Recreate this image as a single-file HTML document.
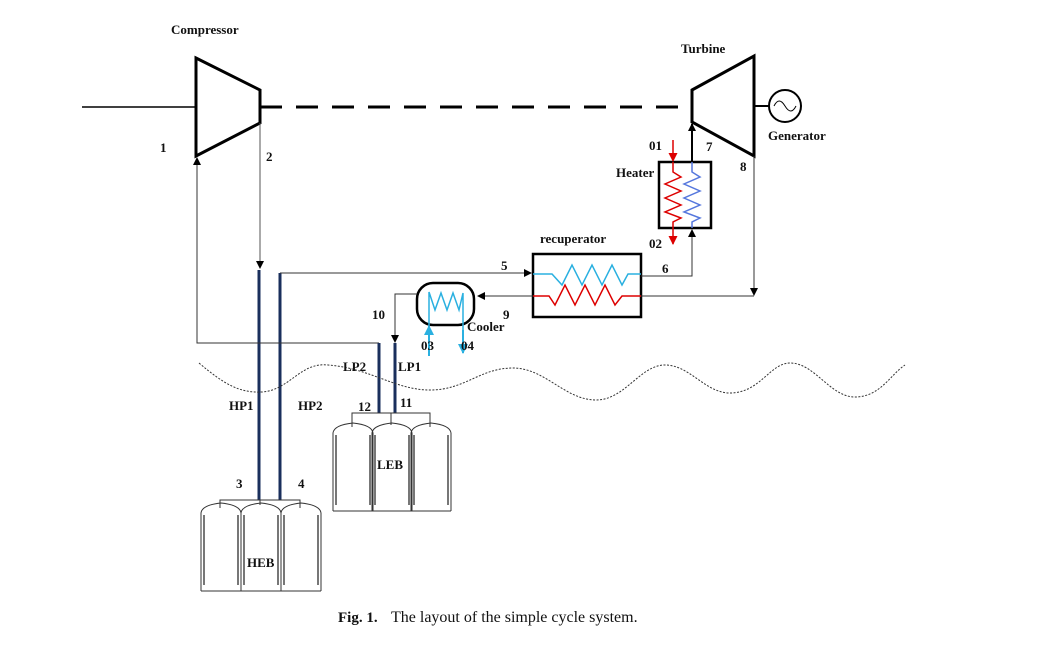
<!DOCTYPE html>
<html><head><meta charset="utf-8"><style>
html,body{margin:0;padding:0;background:#fff;}
svg{display:block;}
text{font-family:"Liberation Serif",serif;font-weight:bold;font-size:13px;fill:#111;}
</style></head><body>
<svg width="1040" height="654" viewBox="0 0 1040 654" xmlns="http://www.w3.org/2000/svg">
<defs>
<marker id="ah" markerWidth="8" markerHeight="8" refX="7" refY="4" orient="auto" markerUnits="userSpaceOnUse"><path d="M0,0 L8,4 L0,8 Z" fill="#000"/></marker>
<marker id="ahr" markerWidth="9" markerHeight="9" refX="8" refY="4.5" orient="auto" markerUnits="userSpaceOnUse"><path d="M0,0 L9,4.5 L0,9 Z" fill="#d00"/></marker>
<marker id="ahb" markerWidth="10" markerHeight="10" refX="9" refY="5" orient="auto" markerUnits="userSpaceOnUse"><path d="M0,0 L10,5 L0,10 Z" fill="#2ab0e0"/></marker>
<g id="tank" fill="none" stroke="#333" stroke-width="1">
<path d="M0,10 Q1,2 20,0 Q39,2 40,10"/>
<line x1="0" y1="10" x2="0" y2="88"/>
<line x1="3" y1="12" x2="3" y2="82" stroke="#777" stroke-width="2"/>
<line x1="37" y1="12" x2="37" y2="82" stroke="#777" stroke-width="2"/>
<line x1="40" y1="10" x2="40" y2="88"/>
<line x1="0" y1="88" x2="40" y2="88"/>
</g>
</defs>
<rect width="1040" height="654" fill="#fff"/>

<polygon points="196,58 260,90 260,123 196,156" fill="none" stroke="#000" stroke-width="3"/>
<line x1="82" y1="107" x2="196" y2="107" stroke="#000" stroke-width="1.5"/>
<line x1="260" y1="107" x2="692" y2="107" stroke="#000" stroke-width="3" stroke-dasharray="22,14"/>
<polygon points="692,90 754,56 754,156 692,122" fill="none" stroke="#000" stroke-width="3"/>
<line x1="754" y1="106" x2="769" y2="106" stroke="#000" stroke-width="2"/>
<circle cx="785" cy="106" r="16" fill="none" stroke="#000" stroke-width="2"/>
<path d="M774,106 Q779,96 785,106 Q791,116 796,106" fill="none" stroke="#000" stroke-width="1"/>

<rect x="659" y="162" width="52" height="66" fill="none" stroke="#000" stroke-width="2.5"/>
<line x1="673" y1="140" x2="673" y2="161" stroke="#d00" stroke-width="1.5" marker-end="url(#ahr)"/>
<polyline points="673,162 673,172 681,177 665,184 681,191 665,198 681,205 665,212 681,218 673,222 673,228" fill="none" stroke="#d00" stroke-width="1.5"/>
<line x1="673" y1="228" x2="673" y2="244" stroke="#d00" stroke-width="1.5" marker-end="url(#ahr)"/>
<polyline points="692,162 692,172 700,177 684,184 700,191 684,198 700,205 684,212 700,218 692,222 692,228" fill="none" stroke="#5577dd" stroke-width="1.5"/>
<line x1="692" y1="162" x2="692" y2="124" stroke="#000" stroke-width="2" marker-end="url(#ah)"/>

<rect x="533" y="254" width="108" height="63" fill="none" stroke="#000" stroke-width="2.5"/>
<polyline points="533,274 552,274 562,285 572,265 582,285 592,265 602,285 612,265 622,285 628,274 641,274" fill="none" stroke="#2ab0e0" stroke-width="1.5"/>
<polyline points="533,296 549,296 555,305 565,285 575,305 585,285 595,305 605,285 615,305 622,296 641,296" fill="none" stroke="#d00" stroke-width="1.5"/>
<polyline points="641,276 692,276 692,230" fill="none" stroke="#333" stroke-width="1" marker-end="url(#ah)"/>
<polyline points="754,156 754,295" fill="none" stroke="#333" stroke-width="1" marker-end="url(#ah)"/>
<line x1="754" y1="296" x2="641" y2="296" stroke="#333" stroke-width="1"/>
<line x1="533" y1="296" x2="478" y2="296" stroke="#333" stroke-width="1" marker-end="url(#ah)"/>

<rect x="417" y="283" width="57" height="42" rx="16" fill="none" stroke="#000" stroke-width="2.5"/>
<polyline points="429,340 429,292 435,310 441,293 447,310 453,293 459,310 463,293 463,340" fill="none" stroke="#2ab0e0" stroke-width="1.5"/>
<line x1="429" y1="356" x2="429" y2="326" stroke="#2ab0e0" stroke-width="2" marker-end="url(#ahb)"/>
<line x1="463" y1="330" x2="463" y2="353" stroke="#2ab0e0" stroke-width="2" marker-end="url(#ahb)"/>
<polyline points="417,294 395,294 395,342" fill="none" stroke="#333" stroke-width="1" marker-end="url(#ah)"/>

<polyline points="260,123 260,268" fill="none" stroke="#555" stroke-width="1" marker-end="url(#ah)"/>
<line x1="259" y1="270" x2="259" y2="500" stroke="#1a2f5c" stroke-width="3"/>
<line x1="280" y1="273" x2="280" y2="500" stroke="#1a2f5c" stroke-width="3"/>
<line x1="280" y1="273" x2="531" y2="273" stroke="#333" stroke-width="1" marker-end="url(#ah)"/>
<polyline points="379,343 197,343 197,158" fill="none" stroke="#333" stroke-width="1" marker-end="url(#ah)"/>
<line x1="379" y1="343" x2="379" y2="413" stroke="#1a2f5c" stroke-width="3"/>
<line x1="395" y1="343" x2="395" y2="413" stroke="#1a2f5c" stroke-width="3"/>

<path d="M199,363 C225,385 240,393 262,392 C290,390 300,362 328,365 C370,368 395,390 430,390 C465,390 480,368 513,368 C545,368 565,400 596,400 C625,400 640,365 665,365 C690,365 705,393 730,393 C760,393 770,363 790,363 C815,363 830,397 855,397 C880,397 890,375 905,365" fill="none" stroke="#333" stroke-width="1" stroke-dasharray="2,1.5"/>

<polyline points="220,508 220,500 300,500 300,508" fill="none" stroke="#333" stroke-width="1"/>
<line x1="260" y1="500" x2="260" y2="505" stroke="#333"/>
<use href="#tank" x="201" y="503"/>
<use href="#tank" x="241" y="503"/>
<use href="#tank" x="281" y="503"/>
<polyline points="352,427 352,413 430,413 430,427" fill="none" stroke="#333" stroke-width="1"/>
<line x1="391" y1="413" x2="391" y2="425" stroke="#333"/>
<use href="#tank" x="333" y="423"/>
<use href="#tank" x="372" y="423"/>
<use href="#tank" x="411" y="423"/>

<text x="171" y="34">Compressor</text>
<text x="681" y="53">Turbine</text>
<text x="768" y="140">Generator</text>
<text x="160" y="152">1</text>
<text x="266" y="161">2</text>
<text x="649" y="150">01</text>
<text x="706" y="151">7</text>
<text x="740" y="171">8</text>
<text x="616" y="177">Heater</text>
<text x="649" y="248">02</text>
<text x="540" y="243">recuperator</text>
<text x="662" y="273">6</text>
<text x="501" y="270">5</text>
<text x="503" y="319">9</text>
<text x="372" y="319">10</text>
<text x="467" y="331">Cooler</text>
<text x="421" y="350">03</text>
<text x="461" y="350">04</text>
<text x="343" y="371">LP2</text>
<text x="398" y="371">LP1</text>
<text x="229" y="410">HP1</text>
<text x="298" y="410">HP2</text>
<text x="358" y="411">12</text>
<text x="400" y="407">11</text>
<text x="377" y="469">LEB</text>
<text x="236" y="488">3</text>
<text x="298" y="488">4</text>
<text x="247" y="567">HEB</text>
<text x="338" y="622" style="font-size:15px">Fig. 1.</text>
<text x="391" y="622" style="font-size:16px;font-weight:normal">The layout of the simple cycle system.</text>
</svg>
</body></html>
